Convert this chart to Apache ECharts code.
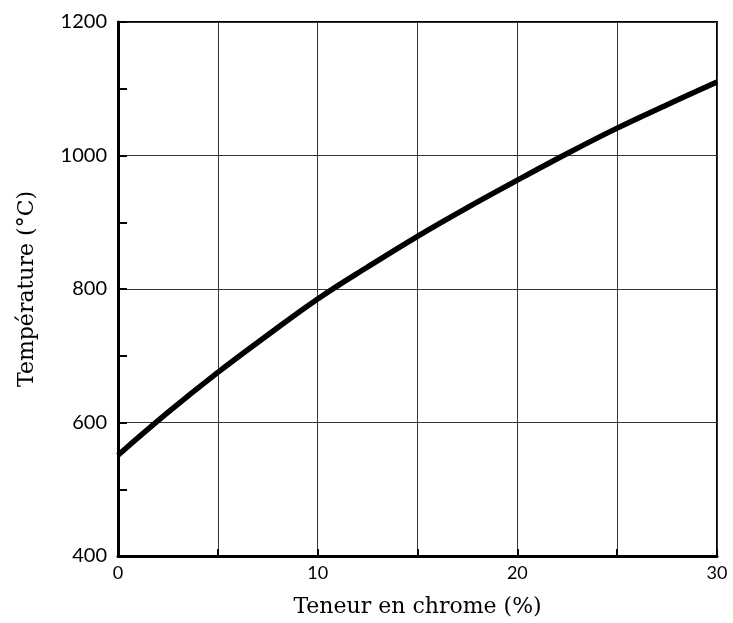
<!DOCTYPE html>
<html>
<head>
<meta charset="utf-8">
<script src="https://cdn.jsdelivr.net/npm/echarts@6/dist/echarts.min.js"></script>
<style>
  html, body { margin: 0; padding: 0; background: #fff; }
  #chart { width: 733px; height: 623px; }
</style>
</head>
<body>
<div id="chart"></div>
<script>
// teneur en chrome (%) vs température (°C)
const chromeContent = [0, 2.5, 5, 7.5, 10, 12.5, 15, 17.5, 20, 22.5, 25, 27.5, 30]
const temperature = [551, 615, 675, 731, 785, 833, 879, 922, 963, 1003, 1041, 1076, 1110]

const xTicks = [0, 10, 20, 30]
const yTicks = [400, 600, 800, 1000, 1200]

const serif = '"DejaVu Serif", "Liberation Serif", serif'
const sans = 'Lato, "Open Sans", sans-serif'

const chart = echarts.init(document.getElementById('chart'))

chart.setOption({
  animation: false,
  grid: {
    left: 118, right: 16, top: 22, bottom: 66,
    show: true, borderColor: '#000', borderWidth: 2,
  },
  xAxis: {
    type: 'value',
    min: 0, max: 30, interval: 5,
    name: 'Teneur en chrome (%)',
    nameLocation: 'middle',
    nameGap: 40,
    nameTextStyle: { color: '#000', fontSize: 22, fontFamily: serif },
    axisLine: { lineStyle: { color: '#000', width: 3 } },
    axisTick: { inside: true, length: 7, lineStyle: { color: '#000', width: 2 } },
    axisLabel: {
      color: '#000', fontSize: 18, fontFamily: sans, margin: 8,
      formatter: (v) => xTicks.includes(v) ? String(v) : '',
    },
    splitLine: { show: true, lineStyle: { color: '#333', width: 1 } },
  },
  yAxis: {
    type: 'value',
    min: 400, max: 1200, interval: 200,
    name: 'Température (°C)',
    nameLocation: 'middle',
    nameGap: 80,
    nameTextStyle: { color: '#000', fontSize: 22, fontFamily: serif },
    axisLine: { show: true, lineStyle: { color: '#000', width: 3 } },
    axisTick: { inside: true, length: 9, lineStyle: { color: '#000', width: 2 } },
    minorTick: { show: true, splitNumber: 2, length: 9, lineStyle: { color: '#000', width: 2 } },
    axisLabel: {
      color: '#000', fontSize: 20, fontFamily: sans, margin: 11,
      formatter: (v) => yTicks.includes(v) ? String(v) : '',
    },
    splitLine: { show: true, lineStyle: { color: '#333', width: 1 } },
  },
  series: [{
    type: 'line',
    data: chromeContent.map((x, i) => [x, temperature[i]]),
    smooth: 0.4,
    showSymbol: false,
    lineStyle: { color: '#000', width: 5.5 },
  }],
})
</script>
</body>
</html>
